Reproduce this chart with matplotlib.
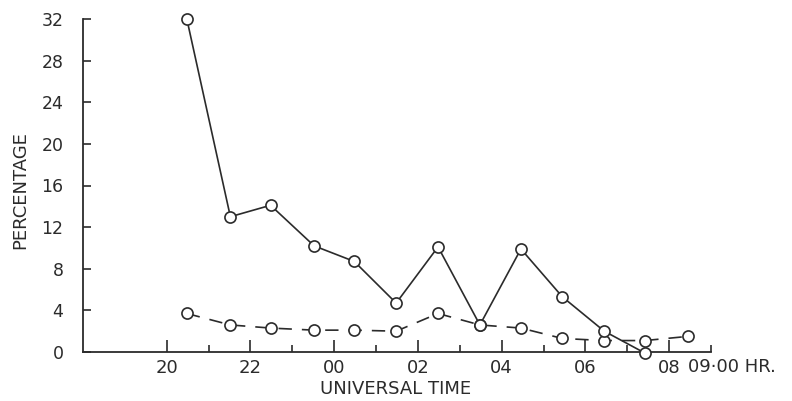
import matplotlib
matplotlib.use("Agg")
import matplotlib.pyplot as plt

# hours after 20:00 run on past midnight (24 = 00, 26 = 02, ...)
hours_solid = [20.48, 21.52, 22.48, 23.52, 24.48, 25.48, 26.48, 27.48, 28.46, 29.45, 30.45, 31.42]
pct_solid = [32.0, 13.0, 14.1, 10.2, 8.7, 4.7, 10.1, 2.6, 9.9, 5.3, 2.0, -0.1]

hours_dashed = [20.48, 21.52, 22.48, 23.52, 24.48, 25.48, 26.48, 27.48, 28.46, 29.45, 30.45, 31.42, 32.45]
pct_dashed = [3.7, 2.6, 2.3, 2.1, 2.1, 2.0, 3.7, 2.6, 2.3, 1.3, 1.1, 1.1, 1.5]

major_ticks = [20, 22, 24, 26, 28, 30, 32]
major_labels = ["20", "22", "00", "02", "04", "06", "08"]
minor_ticks = [21, 23, 25, 27, 29, 31, 33]
y_ticks = [0, 4, 8, 12, 16, 20, 24, 28, 32]

ink = "#2b2b2b"
plt.rcParams["font.family"] = ["DejaVu Sans"]

fig = plt.figure(figsize=(7.92, 4.01), dpi=100)
ax = fig.add_axes([83 / 792, 49 / 401, 628 / 792, 333 / 401])

ax.plot(hours_solid, pct_solid, color=ink, lw=1.2, marker="o", ms=8,
        mfc="white", mec=ink, mew=1.2, zorder=3, clip_on=False)
ax.plot(hours_dashed, pct_dashed, color=ink, lw=1.2, dashes=(8, 6), marker="o", ms=8,
        mfc="white", mec=ink, mew=1.2, zorder=2, clip_on=False)

ax.set_xlim(18, 33)
ax.set_ylim(0, 32)
ax.spines["top"].set_visible(False)
ax.spines["right"].set_visible(False)
for s in ["left", "bottom"]:
    ax.spines[s].set_color(ink)
    ax.spines[s].set_linewidth(1.3)

ax.set_yticks(y_ticks)
ax.set_yticklabels([str(v) for v in y_ticks])
ax.tick_params(axis="y", direction="in", length=6, width=1.2, color=ink,
               labelsize=12.5, labelcolor=ink, pad=14)

ax.set_xticks(major_ticks)
ax.set_xticklabels(major_labels)
ax.set_xticks(minor_ticks, minor=True)
ax.tick_params(axis="x", which="major", direction="in", length=9, width=1.2, color=ink,
               labelsize=13, labelcolor=ink, pad=5)
ax.tick_params(axis="x", which="minor", direction="in", length=5, width=1.2, color=ink)

fig.text(688 / 792, 1 - 367 / 401, "09·00 HR.", fontsize=13,
         color=ink, ha="left", va="center")
fig.text(20 / 792, 1 - 190 / 401, "PERCENTAGE", rotation=90, fontsize=13, color=ink,
         ha="center", va="center")
fig.text(396 / 792, 1 - 389 / 401, "UNIVERSAL TIME", fontsize=13, color=ink,
         ha="center", va="center")

fig.savefig("out.png", dpi=100, facecolor="white")
